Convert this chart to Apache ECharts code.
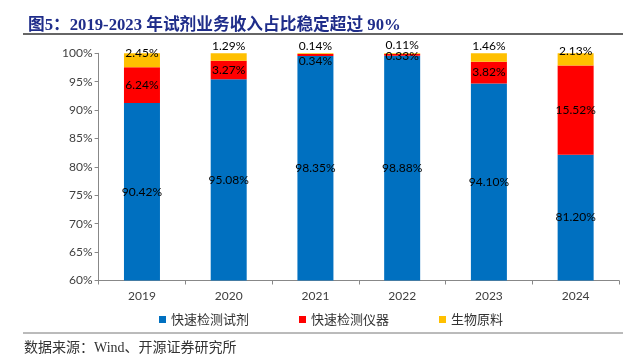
<!DOCTYPE html>
<html>
<head>
<meta charset="utf-8">
<script src="https://cdn.jsdelivr.net/npm/echarts@6/dist/echarts.min.js"></script>
<style>
html,body{margin:0;padding:0;background:#fff;}
#chart{width:628px;height:361px;}
</style>
</head>
<body>
<div id="chart"></div>
<script>
const categories = ['2019', '2020', '2021', '2022', '2023', '2024'];
const reagent = [90.42, 95.08, 98.35, 98.88, 94.10, 81.20];
const instrument = [6.24, 3.27, 0.34, 0.33, 3.82, 15.52];
const rawMaterial = [2.45, 1.29, 0.14, 0.11, 1.46, 2.13];
const seriesNames = ['快速检测试剂', '快速检测仪器', '生物原料'];

// label nudges (layout only)
const yellowLabelDy = [-7, -11, -8, -8, -11.5, -8.5];
const redLabelDy = [0, 0, 6, 1, 0, 0];

const totals = categories.map((c, i) => reagent[i] + instrument[i] + rawMaterial[i]);
function share(arr, dyArr) {
  return arr.map((v, i) => {
    const item = { value: v / totals[i] * 100, raw: v };
    if (dyArr && dyArr[i]) item.label = { offset: [0, dyArr[i]] };
    return item;
  });
}
const labelStyle = {
  show: true,
  position: 'inside',
  color: '#000',
  fontFamily: 'Lato, "Open Sans", sans-serif',
  fontSize: 12,
  formatter: p => p.data.raw.toFixed(2) + '%'
};

const chart = echarts.init(document.getElementById('chart'));
chart.setOption({
  animation: false,
  title: {
    text: '图5：2019-2023 年试剂业务收入占比稳定超过 90%',
    left: 23, top: 12,
    textStyle: {
      fontFamily: '"Liberation Serif", "Noto Sans CJK SC", serif',
      fontWeight: 'bold', fontSize: 16.7, color: '#1f2d8a'
    }
  },
  graphic: [
    { type: 'line', shape: { x1: 23, y1: 34, x2: 623, y2: 34 }, style: { stroke: '#333', lineWidth: 1.5 } },
    { type: 'line', shape: { x1: 23, y1: 333, x2: 623, y2: 333 }, style: { stroke: '#777', lineWidth: 1 } },
    { type: 'text', left: 24, top: 341,
      style: { text: '数据来源：Wind、开源证券研究所', fill: '#333',
        font: '14px "Liberation Serif", "Noto Sans CJK SC", serif' } }
  ],
  legend: {
    left: 154, top: 308,
    icon: 'rect', itemWidth: 7, itemHeight: 7, itemGap: 50,
    textStyle: { fontFamily: '"Noto Sans CJK SC", sans-serif', fontSize: 13, color: '#333' },
    data: seriesNames
  },
  grid: { left: 98.6, right: 9, top: 53.3, bottom: 80.5, containLabel: false },
  xAxis: {
    type: 'category', data: categories,
    axisLine: { lineStyle: { color: '#888' } },
    axisTick: { show: true, length: 4, lineStyle: { color: '#888' } },
    axisLabel: { color: '#404040', fontFamily: 'Lato, "Open Sans", sans-serif', fontSize: 12, margin: 10 }
  },
  yAxis: {
    type: 'value', min: 60, max: 100, interval: 5,
    axisLine: { show: true, lineStyle: { color: '#888' } },
    axisTick: { show: true, length: 4, lineStyle: { color: '#888' } },
    splitLine: { show: false },
    axisLabel: { color: '#404040', fontFamily: 'Lato, "Open Sans", sans-serif', fontSize: 12, margin: 6,
      formatter: '{value}%' }
  },
  series: [
    { name: seriesNames[0], type: 'bar', stack: 'total', barWidth: 36,
      itemStyle: { color: '#0070c0' }, label: labelStyle, data: share(reagent) },
    { name: seriesNames[1], type: 'bar', stack: 'total', barWidth: 36,
      itemStyle: { color: '#ff0000' }, label: labelStyle, data: share(instrument, redLabelDy) },
    { name: seriesNames[2], type: 'bar', stack: 'total', barWidth: 36,
      itemStyle: { color: '#ffc000' }, label: labelStyle, data: share(rawMaterial, yellowLabelDy) }
  ]
});
</script>
</body>
</html>
